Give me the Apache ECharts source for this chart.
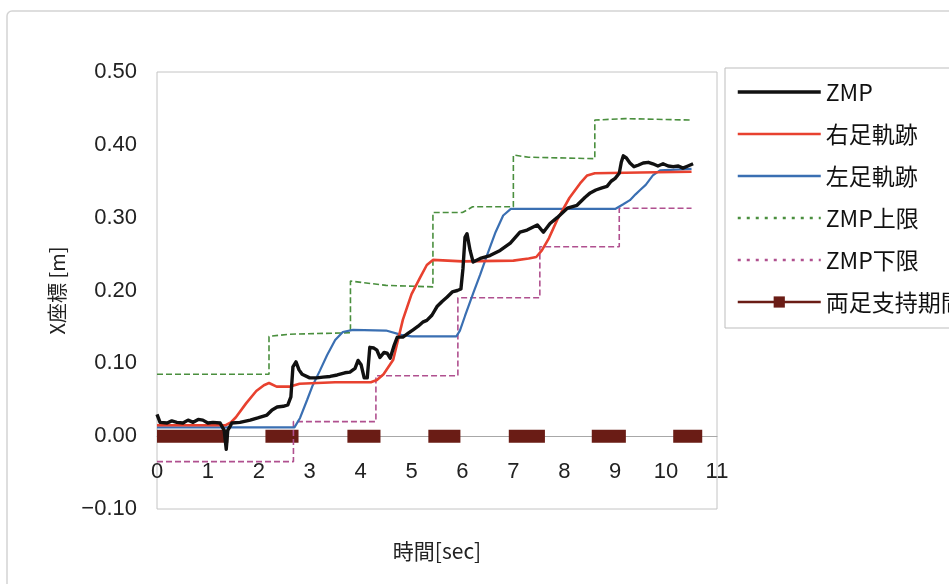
<!DOCTYPE html>
<html>
<head>
<meta charset="utf-8">
<script src="https://cdn.jsdelivr.net/npm/echarts@6/dist/echarts.min.js"></script>
<style>
  html, body { margin: 0; padding: 0; background: #fff; }
  #chart { width: 949px; height: 584px; }
</style>
</head>
<body>
<div id="chart"></div>
<script>
// Time axis ticks [sec] and X-coordinate ticks [m]
const xTicks = [0, 1, 2, 3, 4, 5, 6, 7, 8, 9, 10, 11];
const yTicks = [-0.10, 0.00, 0.10, 0.20, 0.30, 0.40, 0.50];

// Series names
const seriesNames = ['ZMP', '右足軌跡', '左足軌跡', 'ZMP上限', 'ZMP下限', '両足支持期間'];

// Measured ZMP trajectory [t, x]
const zmp = [
  [0.00, 0.030], [0.06, 0.019], [0.20, 0.018], [0.29, 0.021], [0.39, 0.019],
  [0.51, 0.018], [0.61, 0.022], [0.71, 0.019], [0.81, 0.023], [0.90, 0.022],
  [1.00, 0.018], [1.10, 0.019], [1.24, 0.018], [1.32, 0.008], [1.36, -0.018],
  [1.39, 0.008], [1.47, 0.018], [1.63, 0.019], [1.83, 0.022], [1.98, 0.025],
  [2.16, 0.029], [2.26, 0.036], [2.36, 0.040], [2.48, 0.041], [2.57, 0.043],
  [2.63, 0.054], [2.67, 0.095], [2.73, 0.102], [2.79, 0.091], [2.85, 0.085],
  [3.00, 0.080], [3.14, 0.080], [3.26, 0.081], [3.40, 0.082], [3.54, 0.084],
  [3.69, 0.087], [3.79, 0.088], [3.89, 0.093], [3.95, 0.104], [4.01, 0.098],
  [4.07, 0.080], [4.13, 0.080], [4.18, 0.122], [4.26, 0.121], [4.32, 0.118],
  [4.38, 0.108], [4.46, 0.115], [4.52, 0.114], [4.58, 0.107], [4.66, 0.125],
  [4.72, 0.136], [4.83, 0.136], [4.93, 0.141], [5.03, 0.146], [5.13, 0.151],
  [5.23, 0.157], [5.30, 0.159], [5.40, 0.166], [5.50, 0.178], [5.60, 0.185],
  [5.70, 0.191], [5.80, 0.198], [5.90, 0.200], [5.97, 0.202], [6.01, 0.230],
  [6.05, 0.273], [6.09, 0.278], [6.15, 0.255], [6.21, 0.239], [6.35, 0.244],
  [6.54, 0.248], [6.74, 0.255], [6.94, 0.265], [7.13, 0.280], [7.27, 0.283],
  [7.47, 0.290], [7.59, 0.280], [7.72, 0.292], [7.86, 0.300], [8.06, 0.313],
  [8.25, 0.317], [8.41, 0.328], [8.51, 0.334], [8.62, 0.338], [8.74, 0.341],
  [8.84, 0.343], [8.92, 0.350], [9.00, 0.354], [9.08, 0.361], [9.12, 0.376],
  [9.16, 0.385], [9.22, 0.382], [9.29, 0.375], [9.37, 0.370], [9.45, 0.372],
  [9.55, 0.375], [9.65, 0.376], [9.74, 0.374], [9.84, 0.371], [9.94, 0.374],
  [10.04, 0.371], [10.14, 0.370], [10.24, 0.371], [10.33, 0.368], [10.43, 0.371],
  [10.53, 0.374]
];

// Right foot trajectory [t, x]
const rightFoot = [
  [0.00, 0.015], [1.35, 0.015], [1.45, 0.019], [1.55, 0.026], [1.75, 0.045],
  [1.95, 0.062], [2.10, 0.070], [2.20, 0.073], [2.35, 0.068], [2.60, 0.068],
  [2.80, 0.072], [3.50, 0.074], [4.20, 0.074], [4.32, 0.077], [4.45, 0.085],
  [4.64, 0.105], [4.83, 0.160], [5.00, 0.195], [5.17, 0.218], [5.30, 0.235],
  [5.42, 0.242], [6.00, 0.240], [7.00, 0.241], [7.30, 0.244], [7.45, 0.246],
  [7.56, 0.255], [7.70, 0.272], [7.86, 0.297], [8.10, 0.327], [8.31, 0.347],
  [8.45, 0.358], [8.60, 0.361], [9.50, 0.362], [10.50, 0.363]
];

// Left foot trajectory [t, x]
const leftFoot = [
  [0.00, 0.012], [2.70, 0.012], [2.81, 0.025], [2.95, 0.050], [3.06, 0.070],
  [3.20, 0.090], [3.34, 0.111], [3.50, 0.132], [3.65, 0.143], [3.85, 0.146],
  [4.50, 0.145], [4.80, 0.139], [5.00, 0.137], [5.88, 0.137], [5.95, 0.145],
  [6.05, 0.165], [6.21, 0.196], [6.35, 0.222], [6.48, 0.248], [6.65, 0.280],
  [6.80, 0.303], [6.95, 0.312], [9.00, 0.312], [9.15, 0.318], [9.29, 0.324],
  [9.40, 0.332], [9.49, 0.338], [9.60, 0.345], [9.74, 0.358], [9.88, 0.365],
  [10.50, 0.367]
];

// ZMP upper limit [t, x]
const zmpUpper = [
  [0.00, 0.085], [2.20, 0.085], [2.20, 0.137], [2.60, 0.140], [3.80, 0.142],
  [3.80, 0.213], [4.50, 0.207], [5.42, 0.205], [5.42, 0.307], [6.00, 0.307],
  [6.20, 0.315], [7.00, 0.315], [7.00, 0.386], [7.30, 0.383], [8.60, 0.381],
  [8.60, 0.434], [9.20, 0.436], [10.50, 0.434]
];

// ZMP lower limit [t, x]
const zmpLower = [
  [0.00, -0.035], [2.68, -0.035], [2.68, 0.020], [4.30, 0.020], [4.30, 0.083],
  [5.91, 0.083], [5.91, 0.190], [7.52, 0.190], [7.52, 0.260], [9.08, 0.260],
  [9.08, 0.313], [10.50, 0.313]
];

// Double support periods [start, end] in seconds
const doubleSupport = [
  [0.00, 1.40], [2.13, 2.78], [3.74, 4.39], [5.33, 5.96],
  [6.91, 7.62], [8.54, 9.21], [10.14, 10.71]
];

// Break the double-support line between periods
const supportLine = [];
doubleSupport.forEach(function (p, i) {
  if (i > 0) supportLine.push([p[0], null]);
  supportLine.push([p[0], 0], [p[1], 0]);
});

const latin = '"Liberation Sans", "Noto Sans CJK JP", sans-serif';
const jp = '"Noto Sans CJK JP", "Liberation Sans", sans-serif';

const colors = {
  zmp: '#111111',
  right: '#e8412f',
  left: '#3a6fb2',
  upper: '#4a8f3e',
  lower: '#b0508f',
  support: '#6a1c15'
};

// Plot area geometry; the time axis sits on the x = 0 line
const gridTop = 72, gridBottom = 75, chartHeight = 584;
const plotHeight = chartHeight - gridTop - gridBottom;
const zeroOffset = -plotHeight * (0 - yTicks[0]) / (yTicks[yTicks.length - 1] - yTicks[0]);

const chart = echarts.init(document.getElementById('chart'), null, { renderer: 'canvas' });

chart.setOption({
  animation: false,
  backgroundColor: '#ffffff',
  graphic: [{
    type: 'rect',
    silent: true,
    z: -10,
    shape: { x: 7, y: 11, width: 1000, height: 640, r: 5 },
    style: { fill: 'none', stroke: '#d4d4d4', lineWidth: 1.5 }
  }],
  grid: {
    left: 157, right: 232, top: gridTop, bottom: gridBottom,
    outerBoundsMode: 'none',
    containLabel: false,
    show: true, borderColor: '#c4c4c4', borderWidth: 1, backgroundColor: '#ffffff'
  },
  xAxis: {
    type: 'value',
    min: xTicks[0], max: xTicks[xTicks.length - 1], interval: 1,
    offset: zeroOffset,
    name: '時間[sec]', nameLocation: 'middle', nameGap: 104,
    nameTextStyle: { fontFamily: jp, fontSize: 21, color: '#222' },
    axisLine: { onZero: false, lineStyle: { color: '#a8a8a8', width: 1 } },
    axisTick: { show: false },
    splitLine: { show: false },
    axisLabel: { margin: 25, fontFamily: latin, fontSize: 22, color: '#222',
      formatter: function (v) { return String(v); } }
  },
  yAxis: {
    type: 'value',
    min: yTicks[0], max: yTicks[yTicks.length - 1], interval: 0.1,
    name: 'X座標 [m]', nameLocation: 'middle', nameGap: 90, nameRotate: 90,
    nameTextStyle: { fontFamily: jp, fontSize: 20, color: '#222' },
    axisLine: { show: false },
    axisTick: { show: false },
    splitLine: { show: false },
    axisLabel: { margin: 20, fontFamily: latin, fontSize: 22, color: '#222',
      formatter: function (v) { return v.toFixed(2).replace('-', '−'); } }
  },
  legend: {
    orient: 'vertical',
    left: 725, top: 68,
    padding: [10, 10, 12, 11],
    itemGap: 14,
    itemWidth: 83, itemHeight: 14,
    backgroundColor: '#ffffff',
    borderColor: '#bdbdbd', borderWidth: 1, borderRadius: 0,
    textStyle: { fontFamily: jp, fontSize: 23, lineHeight: 28, color: '#111' },
    data: [
      { name: seriesNames[0], itemStyle: { opacity: 0 }, lineStyle: { width: 3.5 } },
      { name: seriesNames[1], itemStyle: { opacity: 0 }, lineStyle: { width: 2.5 } },
      { name: seriesNames[2], itemStyle: { opacity: 0 }, lineStyle: { width: 2.5 } },
      { name: seriesNames[3], itemStyle: { opacity: 0 }, lineStyle: { width: 2.5, type: [3, 6] } },
      { name: seriesNames[4], itemStyle: { opacity: 0 }, lineStyle: { width: 2.5, type: [3, 6] } },
      { name: seriesNames[5], lineStyle: { width: 2.5 } }
    ]
  },
  series: [
    {
      name: seriesNames[5], type: 'line', data: supportLine,
      symbol: 'rect', symbolSize: 12, showSymbol: false, connectNulls: false,
      color: colors.support,
      lineStyle: { color: colors.support, width: 13, cap: 'butt' },
      itemStyle: { color: colors.support }, z: 1
    },
    {
      name: seriesNames[4], type: 'line', data: zmpLower, symbol: 'none',
      color: colors.lower,
      lineStyle: { color: colors.lower, width: 1.6, type: [6, 3] }, z: 2
    },
    {
      name: seriesNames[3], type: 'line', data: zmpUpper, symbol: 'none',
      color: colors.upper,
      lineStyle: { color: colors.upper, width: 1.6, type: [6, 3] }, z: 2
    },
    {
      name: seriesNames[2], type: 'line', data: leftFoot, symbol: 'none',
      color: colors.left,
      lineStyle: { color: colors.left, width: 2.2 }, z: 3
    },
    {
      name: seriesNames[1], type: 'line', data: rightFoot, symbol: 'none',
      color: colors.right,
      lineStyle: { color: colors.right, width: 2.6 }, z: 4
    },
    {
      name: seriesNames[0], type: 'line', data: zmp, symbol: 'none',
      color: colors.zmp,
      lineStyle: { color: colors.zmp, width: 3.4, join: 'round' }, z: 5
    }
  ]
});
</script>
</body>
</html>
